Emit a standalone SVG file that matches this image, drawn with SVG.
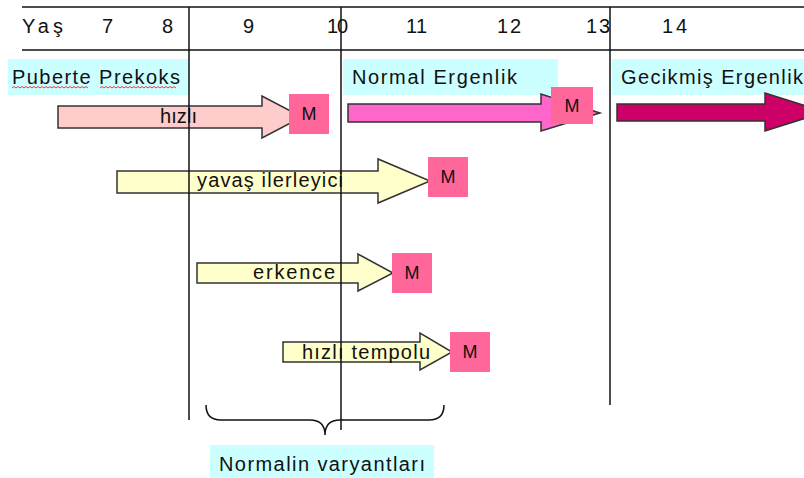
<svg xmlns="http://www.w3.org/2000/svg" width="804" height="478" viewBox="0 0 804 478">
<style>
text{font-family:"Liberation Sans",Arial,sans-serif;font-size:20px;fill:#111}
.lbl{fill:#CCFFFF}
.arr{stroke:#333;stroke-width:1.5;stroke-linejoin:miter}
.m{fill:#FF6699}
.mt{text-anchor:middle;font-size:18px}
.grid{stroke:#111;stroke-width:1.5;fill:none}
.wave{stroke:#FF3333;stroke-width:1;fill:none}
</style>
<rect width="804" height="478" fill="#fff"/>
<g id="axis">
<text x="22" y="33" textLength="41" lengthAdjust="spacing">Yaş</text>
<text x="102" y="33">7</text>
<text x="162" y="33">8</text>
<text x="243" y="33">9</text>
<text x="327" y="33" textLength="21" lengthAdjust="spacing">10</text>
<text x="406" y="33" textLength="21" lengthAdjust="spacing">11</text>
<text x="497" y="33" textLength="24" lengthAdjust="spacing">12</text>
<text x="586" y="33" textLength="24" lengthAdjust="spacing">13</text>
<text x="662" y="33" textLength="25" lengthAdjust="spacing">14</text>
</g>
<g id="label-puberte">
<rect class="lbl" x="8" y="59" width="181" height="36"/>
<text x="12" y="84" textLength="168" lengthAdjust="spacing">Puberte Prekoks</text>
<path class="wave" d="M12,88 l2,-1.5 2,1.5 2,-1.5 2,1.5 2,-1.5 2,1.5 2,-1.5 2,1.5 2,-1.5 2,1.5 2,-1.5 2,1.5 2,-1.5 2,1.5 2,-1.5 2,1.5 2,-1.5 2,1.5 2,-1.5 2,1.5 2,-1.5 2,1.5 2,-1.5 2,1.5 2,-1.5 2,1.5 2,-1.5 2,1.5 2,-1.5 2,1.5 2,-1.5 2,1.5 2,-1.5 2,1.5 2,-1.5 2,1.5 2,-1.5 2,1.5"/>
<path class="wave" d="M100,88 l2,-1.5 2,1.5 2,-1.5 2,1.5 2,-1.5 2,1.5 2,-1.5 2,1.5 2,-1.5 2,1.5 2,-1.5 2,1.5 2,-1.5 2,1.5 2,-1.5 2,1.5 2,-1.5 2,1.5 2,-1.5 2,1.5 2,-1.5 2,1.5 2,-1.5 2,1.5 2,-1.5 2,1.5 2,-1.5 2,1.5 2,-1.5 2,1.5 2,-1.5 2,1.5 2,-1.5 2,1.5 2,-1.5 2,1.5 2,-1.5 2,1.5"/>
</g>
<g id="label-normal">
<rect class="lbl" x="343" y="59" width="215" height="36"/>
<text x="352" y="84" textLength="165" lengthAdjust="spacing">Normal Ergenlik</text>
</g>
<g id="label-gecikmis">
<rect class="lbl" x="612" y="59" width="192" height="36"/>
<text x="621" y="84" textLength="182" lengthAdjust="spacing">Gecikmiş Ergenlik</text>
</g>
<g id="arrow-hizli">
<polygon class="arr" fill="#FFCCCC" points="58,106 262,106 262,96 302,117 262,138 262,128 58,128"/>
<text x="160" y="123" textLength="37" lengthAdjust="spacing">hızlı</text>
<rect class="m" x="289" y="94" width="40" height="40"/>
<text class="mt" x="309" y="120">M</text>
</g>
<g id="arrow-normal">
<polygon class="arr" fill="#FF66CC" points="348,104 541,104 541,94 600,113 541,131 541,122 348,122"/>
<rect class="m" x="551" y="87" width="42" height="37"/>
<text class="mt" x="572" y="112">M</text>
</g>
<g id="arrow-gecikmis">
<polygon class="arr" fill="#CC0066" points="617,104 765,104 765,93 825,112 765,131 765,121 617,121"/>
</g>
<g id="arrow-yavas">
<polygon class="arr" fill="#FFFFCC" points="117,171 378,171 378,159 430,181 378,203 378,193 117,193"/>
<text x="197" y="187" textLength="146" lengthAdjust="spacing">yavaş ilerleyici</text>
<rect class="m" x="428" y="157" width="40" height="40"/>
<text class="mt" x="448" y="183">M</text>
</g>
<g id="arrow-erkence">
<polygon class="arr" fill="#FFFFCC" points="197,263 358,263 358,254 393,273 358,291 358,283 197,283"/>
<text x="253" y="279" textLength="82" lengthAdjust="spacing">erkence</text>
<rect class="m" x="392" y="253" width="40" height="40"/>
<text class="mt" x="412" y="279">M</text>
</g>
<g id="arrow-hizli-tempolu">
<polygon class="arr" fill="#FFFFCC" points="283,342 420,342 420,333 452,352 420,370 420,362 283,362"/>
<text x="302" y="359" textLength="128" lengthAdjust="spacing">hızlı tempolu</text>
<rect class="m" x="450" y="332" width="40" height="40"/>
<text class="mt" x="470" y="358">M</text>
</g>
<g id="connectors">
<line class="grid" x1="22" y1="7" x2="804" y2="7"/>
<line class="grid" x1="22" y1="50" x2="804" y2="50"/>
<line class="grid" x1="189" y1="7" x2="189" y2="420"/>
<line class="grid" x1="341" y1="7" x2="341" y2="430"/>
<line class="grid" x1="610" y1="7" x2="610" y2="405"/>
<path class="grid" stroke="#444" d="M206,405 Q206,420 221,420 L310,420 Q325,420 325,435 Q325,420 340,420 L429,420 Q444,420 444,405"/>
</g>
<g id="label-varyant">
<rect class="lbl" x="210" y="445" width="224" height="33"/>
<text x="219" y="471" textLength="206" lengthAdjust="spacing">Normalin varyantları</text>
</g>
</svg>
